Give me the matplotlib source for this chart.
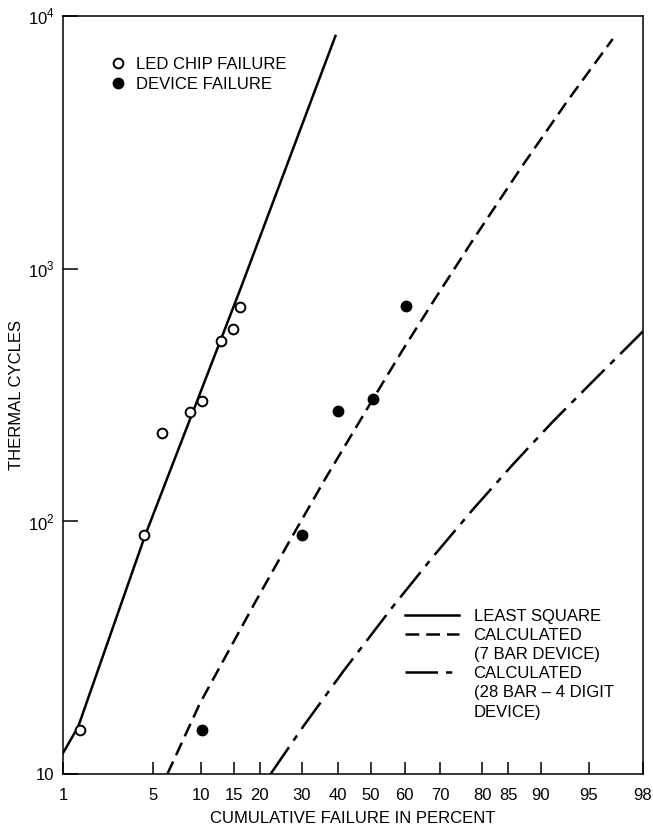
import numpy as np
import matplotlib
matplotlib.use("Agg")
import matplotlib.pyplot as plt
from matplotlib.lines import Line2D
from matplotlib.ticker import NullLocator, FixedLocator
from statistics import NormalDist

plt.rcParams['font.family'] = ['Liberation Sans', 'DejaVu Sans']
plt.rcParams['mathtext.fontset'] = 'custom'
plt.rcParams['mathtext.rm'] = 'Liberation Sans'

# LED chip failures (open circles): cumulative percent, thermal cycles
led_pct = [1.4, 4.3, 5.7, 8.6, 10.1, 12.8, 14.8, 16.1]
led_cyc = [15, 88, 224, 270, 299, 516, 578, 703]

# device failures (filled circles)
dev_pct = [10.1, 30.2, 40.2, 50.6, 60.4]
dev_cyc = [15, 88.5, 273, 305, 709]

# least square line
ls_pct = [1.0, 1.35, 4.4, 16.2, 39.4]
ls_cyc = [12.1, 15.4, 88, 832, 8340]

# calculated, 7 bar device
c7_pct = [6.2, 9.8, 19.3, 27, 36.8, 50.6, 59.5, 68.0, 77.9, 87.4, 93.1, 96.6]
c7_cyc = [10, 19, 48.7, 84, 150, 305, 478, 738, 1297, 2565, 4613, 8110]

# calculated, 28 bar - 4 digit device
c28_pct = [22.4, 30.4, 41.6, 56.6, 68.0, 77.9, 85.8, 91.5, 95.3, 98]
c28_cyc = [10, 15.4, 25.4, 46.1, 72.4, 111.4, 168, 248, 358, 565]

x_ticks = [1, 5, 10, 15, 20, 30, 40, 50, 60, 70, 80, 85, 90, 95, 98]
y_ticks = [10, 100, 1000, 10000]
y_labels = ['10', '$10^2$', '$10^3$', '$10^4$']

nd = NormalDist()
_ppf = np.vectorize(lambda q: nd.inv_cdf(q) if 0 < q < 1 else np.nan, otypes=[float])
_cdf = np.vectorize(lambda z: nd.cdf(z) if np.isfinite(z) else np.nan, otypes=[float])


def prob_fwd(p):
    q = np.clip(np.asarray(p, dtype=float) / 100.0, 1e-9, 1 - 1e-9)
    return _ppf(q)


def prob_inv(z):
    return 100.0 * _cdf(np.asarray(z, dtype=float))


fs = 12
fig = plt.figure(figsize=(6.53, 8.30), dpi=100)
ax = fig.add_axes([63 / 653, 1 - 774 / 830, 580 / 653, 758 / 830])

ax.set_xscale('function', functions=(prob_fwd, prob_inv))
ax.set_yscale('log')
ax.set_xlim(1, 98)
ax.set_ylim(10, 10000)

lw = 1.8
dash = (0, (5.5, 2.8))
dashdot = (0, (13, 3.2, 2.5, 3.2))
ax.plot(ls_pct, ls_cyc, color='black', lw=lw)
ax.plot(c7_pct, c7_cyc, color='black', lw=lw, linestyle=dash)
ax.plot(c28_pct, c28_cyc, color='black', lw=lw, linestyle=dashdot)

ax.plot(led_pct, led_cyc, 'o', mfc='white', mec='black', mew=1.4, ms=7, zorder=3)
ax.plot(dev_pct, dev_cyc, 'o', mfc='black', mec='black', ms=7.5, zorder=3)

ax.xaxis.set_major_locator(FixedLocator(x_ticks))
ax.xaxis.set_minor_locator(NullLocator())
ax.set_xticklabels([str(t) for t in x_ticks])
ax.yaxis.set_major_locator(FixedLocator(y_ticks))
ax.yaxis.set_minor_locator(NullLocator())
ax.set_yticklabels(y_labels)

ax.tick_params(axis='x', direction='in', length=9, width=1.1, pad=10, labelsize=fs)
ax.tick_params(axis='y', direction='in', length=11, width=1.1, pad=6, labelsize=fs)
for s in ax.spines.values():
    s.set_linewidth(1.1)

ax.set_xlabel('CUMULATIVE FAILURE IN PERCENT', fontsize=fs, labelpad=6)
ax.set_ylabel('THERMAL CYCLES', fontsize=fs, labelpad=3)

# marker legend, upper left
mk = [Line2D([], [], marker='o', ls='none', mfc='white', mec='black', mew=1.4, ms=7),
      Line2D([], [], marker='o', ls='none', mfc='black', mec='black', ms=7.5)]
leg1 = ax.legend(mk, ['LED CHIP FAILURE', 'DEVICE FAILURE'], loc='upper left',
                 bbox_to_anchor=(0.0805, 0.946), frameon=False, fontsize=fs,
                 handlelength=1.0, handletextpad=0.58, labelspacing=0.32,
                 borderpad=0, borderaxespad=0)
ax.add_artist(leg1)

# line legend, lower right
blank = Line2D([], [], ls='none')
hl = [Line2D([], [], color='black', lw=lw),
      Line2D([], [], color='black', lw=lw, linestyle=dash),
      blank,
      Line2D([], [], color='black', lw=lw, linestyle=dashdot),
      blank, blank]
ll = ['LEAST SQUARE', 'CALCULATED', '(7 BAR DEVICE)', 'CALCULATED',
      '(28 BAR \u2013 4 DIGIT', 'DEVICE)']
ax.legend(hl, ll, loc='upper left', bbox_to_anchor=(0.59, 0.218), frameon=False,
          fontsize=fs, handlelength=3.2, handletextpad=0.9, labelspacing=0.25,
          borderpad=0, borderaxespad=0)

fig.savefig('out.png', dpi=100)
